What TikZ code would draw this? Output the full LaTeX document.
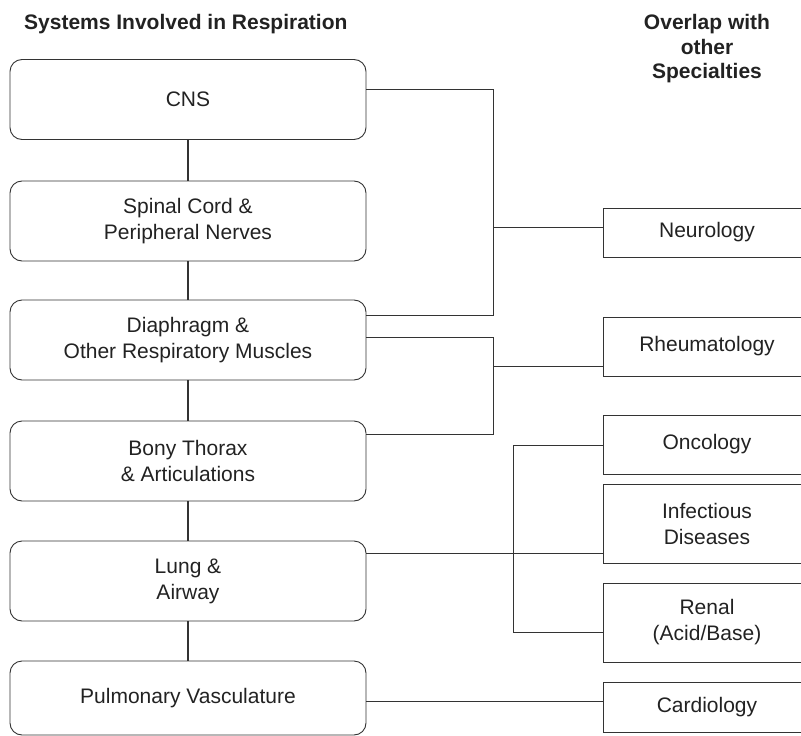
\documentclass[tikz,border=0pt]{standalone}
\usepackage{fontspec}
\setmainfont{Liberation Sans}
\definecolor{ink}{HTML}{222222}
\definecolor{edge}{HTML}{333333}
\begin{document}
\begin{tikzpicture}[x=1pt,y=-1pt,
  txt/.style={font=\fontsize{21}{26}\selectfont, text=ink, align=center, inner sep=0pt},
  sysbox/.style={txt, draw=edge, line width=0.9pt, rounded corners=12pt, minimum width=356pt, minimum height=80pt},
  specbox/.style={txt, draw=edge, line width=0.9pt, minimum width=208pt},
  chain/.style={draw=edge, line width=1.8pt},
  link/.style={draw=edge, line width=0.9pt},
  ttl/.style={font=\bfseries\fontsize{21}{24}\selectfont, text=ink, align=center, inner sep=0pt}]
\useasboundingbox (0,0) rectangle (801,736);
\clip (0,0) rectangle (801,736);
% titles
\node[ttl, anchor=base west] (t1) at (24,30) {Systems Involved in Respiration};
\node[ttl, anchor=base] (t2a) at (707,30) {Overlap with};
\node[ttl, anchor=base] (t2b) at (707,54) {other};
\node[ttl, anchor=base] (t2c) at (707,78) {Specialties};
% left column
\node[sysbox] (cns) at (188,99.5) {CNS};
\node[sysbox] (spinal) at (188,221) {Spinal Cord \&\\Peripheral Nerves};
\node[sysbox] (diaph) at (188,340) {Diaphragm \&\\Other Respiratory Muscles};
\node[sysbox] (bony) at (188,461) {Bony Thorax\\\& Articulations};
\node[sysbox] (lung) at (188,581) {Lung \&\\Airway};
\node[sysbox, minimum height=74pt] (pulm) at (188,698) {Pulmonary Vasculature};
% right column
\node[specbox, minimum height=49pt] (neuro) at (707,232.5) {Neurology};
\node[specbox, minimum height=59pt] (rheum) at (707,346.5) {Rheumatology};
\node[specbox, minimum height=59pt] (onco) at (707,444.5) {Oncology};
\node[specbox, minimum height=79pt] (infect) at (707,523.5) {Infectious\\Diseases};
\node[specbox, minimum height=79pt] (renal) at (707,622.5) {Renal\\(Acid/Base)};
\node[specbox, minimum height=50pt] (cardio) at (707,707) {Cardiology};
% chain
\draw[chain] (cns.south) -- (spinal.north);
\draw[chain] (spinal.south) -- (diaph.north);
\draw[chain] (diaph.south) -- (bony.north);
\draw[chain] (bony.south) -- (lung.north);
\draw[chain] (lung.south) -- (pulm.north);
% junctions
\coordinate (jn) at (493,227);
\coordinate (jr) at (493,366);
\coordinate (jb) at (513,553);
% neurology bracket
\draw[link] (cns.east |- 0,89) -| (jn |- 0,315) -- (diaph.east |- 0,315);
\draw[link] (jn) -- (neuro.west |- jn);
% rheumatology bracket
\draw[link] (diaph.east |- 0,337) -| (jr |- 0,434) -- (bony.east |- 0,434);
\draw[link] (jr) -- (rheum.west |- jr);
% lung bracket
\draw[link] (lung.east |- jb) -- (infect.west |- jb);
\draw[link] (onco.west |- 0,445) -| (jb |- 0,632) -- (renal.west |- 0,632);
% pulmonary
\draw[link] (pulm.east |- 0,701) -- (cardio.west |- 0,701);
\end{tikzpicture}
\end{document}
